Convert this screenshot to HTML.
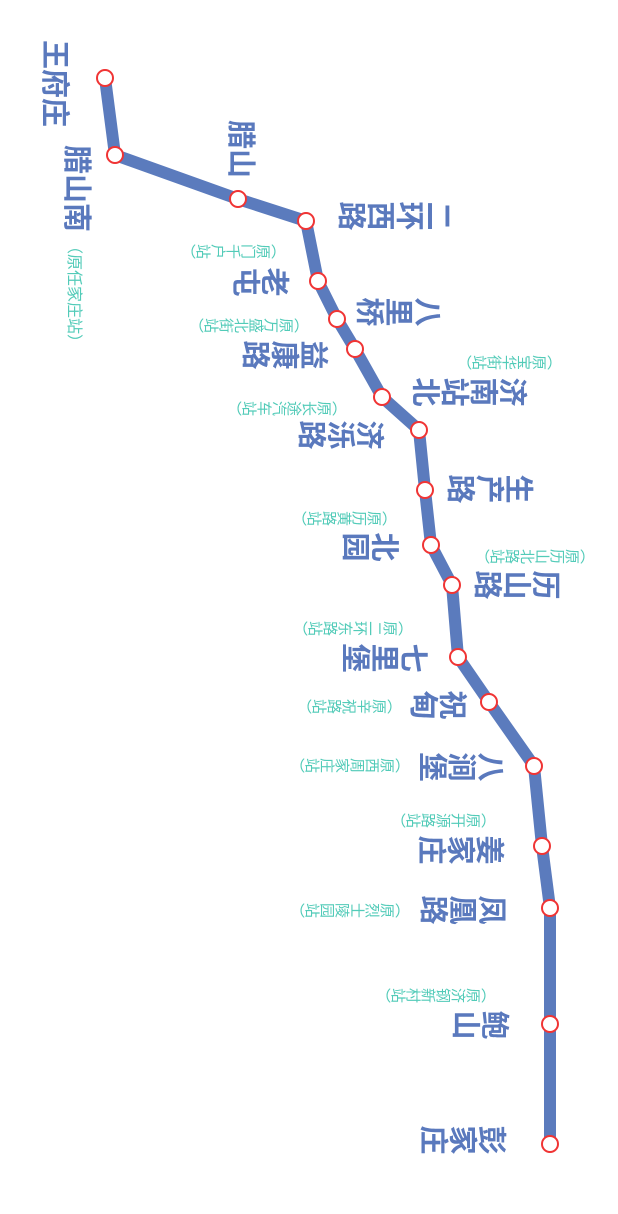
<!DOCTYPE html>
<html><head><meta charset="utf-8"><style>
html,body{margin:0;padding:0;background:#fff;}
body{width:618px;height:1214px;position:relative;overflow:hidden;font-family:"Liberation Sans","Noto Sans CJK SC",sans-serif;}
.h{position:absolute;display:flex;flex-direction:row-reverse;color:#5a79bd;font-weight:bold;font-size:29px;}
.h span{display:inline-block;width:29px;height:30px;line-height:30px;text-align:center;transform:rotate(90deg);}
.s{position:absolute;display:flex;flex-direction:row-reverse;color:#52cbb8;font-size:15px;}
.s span{display:inline-block;width:15px;height:17px;line-height:17px;text-align:center;transform:rotate(90deg);}
.v{position:absolute;writing-mode:vertical-rl;text-orientation:sideways;color:#5a79bd;font-weight:bold;font-size:29px;letter-spacing:0px;line-height:30px;}
.vs{position:absolute;writing-mode:vertical-rl;text-orientation:sideways;color:#52cbb8;font-size:16px;line-height:17px;letter-spacing:0px;}
svg{position:absolute;left:0;top:0;}
</style></head><body>
<svg width="618" height="1214">
<polyline fill="none" stroke="#5b7bbd" stroke-width="12" stroke-linejoin="round" points="105,78 115,155 238,199 306,221 318,281 337,319 355,349 382,397 419,430 425,490 431,545 452,585 458,657 489,702 534,766 542,846 550,908 550,1024 550,1144"/>
<g fill="#fff" stroke="#f03434" stroke-width="2">
<circle cx="105" cy="78" r="8"/><circle cx="115" cy="155" r="8"/><circle cx="238" cy="199" r="8"/><circle cx="306" cy="221" r="8"/><circle cx="318" cy="281" r="8"/><circle cx="337" cy="319" r="8"/><circle cx="355" cy="349" r="8"/><circle cx="382" cy="397" r="8"/><circle cx="419" cy="430" r="8"/><circle cx="425" cy="490" r="8"/><circle cx="431" cy="545" r="8"/><circle cx="452" cy="585" r="8"/><circle cx="458" cy="657" r="8"/><circle cx="489" cy="702" r="8"/><circle cx="534" cy="766" r="8"/><circle cx="542" cy="846" r="8"/><circle cx="550" cy="908" r="8"/><circle cx="550" cy="1024" r="8"/><circle cx="550" cy="1144" r="8"/>
</g></svg>

<div class="v" style="left:39px;top:40px;">王府庄</div>
<div class="v" style="left:61px;top:145px;">腊山南</div>
<div class="vs" style="left:65px;top:238px;">（原任家庄站）</div>
<div class="v" style="left:225px;top:120px;">腊山</div>

<div class="h" style="left:336px;top:201px;"><span>二</span><span>环</span><span>西</span><span>路</span></div>
<div class="s" style="left:180px;top:243px;"><span>︵</span><span>原</span><span>门</span><span>千</span><span>户</span><span>站</span><span>︶</span></div>
<div class="h" style="left:230px;top:267px;"><span>老</span><span>屯</span></div>
<div class="h" style="left:354px;top:297px;"><span>八</span><span>里</span><span>桥</span></div>
<div class="s" style="left:188px;top:317px;"><span>︵</span><span>原</span><span>万</span><span>盛</span><span>北</span><span>街</span><span>站</span><span>︶</span></div>
<div class="h" style="left:240px;top:340px;"><span>益</span><span>康</span><span>路</span></div>
<div class="s" style="left:456px;top:354px;"><span>︵</span><span>原</span><span>宝</span><span>华</span><span>街</span><span>站</span><span>︶</span></div>
<div class="h" style="left:410px;top:377px;"><span>济</span><span>南</span><span>站</span><span>北</span></div>
<div class="s" style="left:226px;top:400px;"><span>︵</span><span>原</span><span>长</span><span>途</span><span>汽</span><span>车</span><span>站</span><span>︶</span></div>
<div class="h" style="left:296px;top:420px;"><span>济</span><span>泺</span><span>路</span></div>
<div class="h" style="left:445px;top:474px;"><span>生</span><span>产</span><span>路</span></div>
<div class="s" style="left:291px;top:510px;"><span>︵</span><span>原</span><span>历</span><span>黄</span><span>路</span><span>站</span><span>︶</span></div>
<div class="h" style="left:340px;top:532px;"><span>北</span><span>园</span></div>
<div class="s" style="left:474px;top:548px;"><span>︵</span><span>原</span><span>历</span><span>山</span><span>北</span><span>路</span><span>站</span><span>︶</span></div>
<div class="h" style="left:472px;top:570px;"><span>历</span><span>山</span><span>路</span></div>
<div class="s" style="left:292px;top:620px;"><span>︵</span><span>原</span><span>二</span><span>环</span><span>东</span><span>路</span><span>站</span><span>︶</span></div>
<div class="h" style="left:340px;top:643px;"><span>七</span><span>里</span><span>堡</span></div>
<div class="s" style="left:296px;top:698px;"><span>︵</span><span>原</span><span>辛</span><span>祝</span><span>路</span><span>站</span><span>︶</span></div>
<div class="h" style="left:408px;top:690px;"><span>祝</span><span>甸</span></div>
<div class="s" style="left:289px;top:757px;"><span>︵</span><span>原</span><span>西</span><span>周</span><span>家</span><span>庄</span><span>站</span><span>︶</span></div>
<div class="h" style="left:417px;top:752px;"><span>八</span><span>涧</span><span>堡</span></div>
<div class="s" style="left:390px;top:812px;"><span>︵</span><span>原</span><span>开</span><span>源</span><span>路</span><span>站</span><span>︶</span></div>
<div class="h" style="left:416px;top:835px;"><span>姜</span><span>家</span><span>庄</span></div>
<div class="h" style="left:418px;top:895px;"><span>凤</span><span>凰</span><span>路</span></div>
<div class="s" style="left:289px;top:902px;"><span>︵</span><span>原</span><span>烈</span><span>士</span><span>陵</span><span>园</span><span>站</span><span>︶</span></div>
<div class="s" style="left:375px;top:987px;"><span>︵</span><span>原</span><span>济</span><span>钢</span><span>新</span><span>村</span><span>站</span><span>︶</span></div>
<div class="h" style="left:450px;top:1010px;"><span>鲍</span><span>山</span></div>
<div class="h" style="left:418px;top:1125px;"><span>彭</span><span>家</span><span>庄</span></div>
</body></html>
